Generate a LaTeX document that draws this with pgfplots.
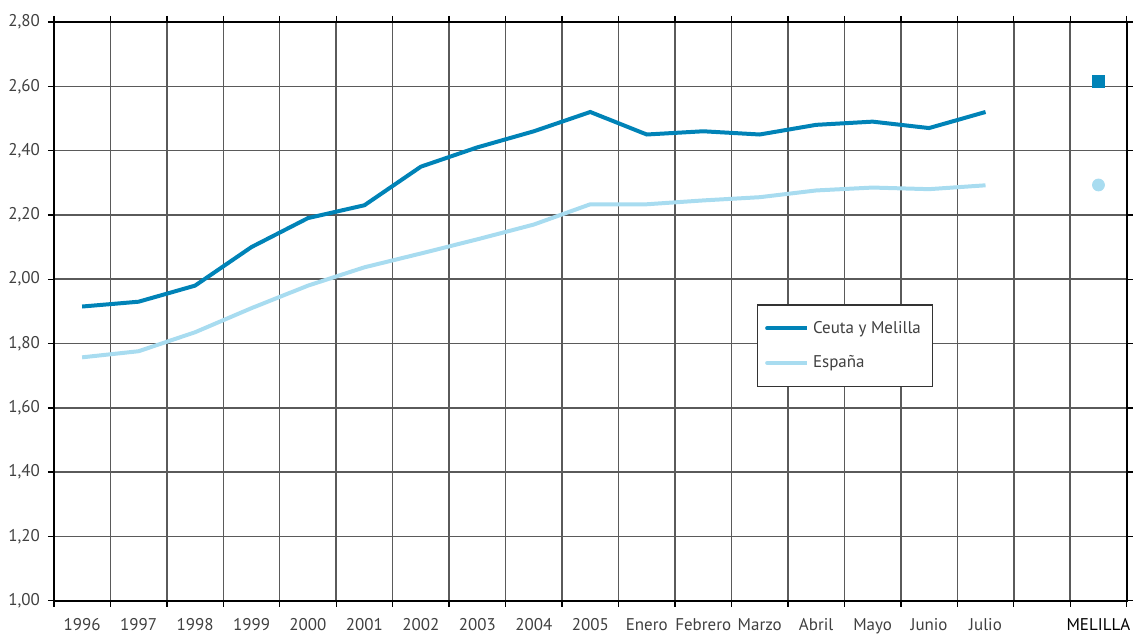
\documentclass[border=0pt]{standalone}
\usepackage{pgfplots}
\pgfplotsset{compat=1.18}
\usetikzlibrary{calc}
\usepackage{fontspec}
\setmainfont{PT Sans}
\definecolor{ceuta}{HTML}{0083B7}
\definecolor{espana}{HTML}{A8DCF0}
\definecolor{gridc}{HTML}{5A5A5A}
\definecolor{txt}{HTML}{404040}
\begin{document}
\fontsize{8.5}{10}\selectfont
\begin{tikzpicture}
\begin{axis}[
  scale only axis,
  width=537.5pt, height=290pt,
  xmin=-0.5, xmax=18.5,
  ymin=1, ymax=2.8,
  xtick={0,...,18},
  xticklabels={1996,1997,1998,1999,2000,2001,2002,2003,2004,2005,Enero,Febrero,Marzo,Abril,Mayo,Junio,Julio,{},{\color{black}MELILLA}},
  minor xtick={-0.5,0.5,1.5,2.5,3.5,4.5,5.5,6.5,7.5,8.5,9.5,10.5,11.5,12.5,13.5,14.5,15.5,16.5,17.5,18.5},
  xminorgrids=true,
  ymajorgrids=true,
  ytick={1,1.2,1.4,1.6,1.8,2.0,2.2,2.4,2.6,2.8},
  tick align=outside,
  xtick style={draw=none},
  minor x tick style={draw=black, line width=0.7pt},
  minor tick length=3pt,
  major tick length=3pt,
  ytick style={draw=black, line width=0.7pt},
  minor x grid style={gridc, line width=0.75pt},
  major y grid style={gridc, line width=0.75pt},
  axis line style={black, line width=0.9pt},
  tick label style={txt, font=\fontsize{8.5}{10}\selectfont},
  xticklabel style={yshift=-3pt},
  yticklabel style={xshift=-1pt},
  /pgf/number format/.cd, fixed, fixed zerofill, precision=2, use comma, assume math mode=true,
  /pgfplots/.cd,
  legend style={at={(0.655,0.512)}, anchor=north west, draw=black!80, line width=0.6pt,
    font=\fontsize{8.5}{10}\selectfont, text=txt, inner xsep=4pt, inner ysep=6pt,
    row sep=6pt, fill=white},
  legend cell align=left,
  legend image code/.code={\draw[#1, line width=2pt, line cap=round] (0pt,0pt) -- (15pt,0pt); \path (0pt,0pt) -- (20pt,0pt);},
]
\addplot[ceuta, line width=2pt] coordinates {
(0,1.915)(1,1.93)(2,1.98)(3,2.10)(4,2.19)(5,2.23)(6,2.35)(7,2.41)(8,2.46)(9,2.52)
(10,2.45)(11,2.46)(12,2.45)(13,2.48)(14,2.49)(15,2.47)(16,2.52)};
\addlegendentry{Ceuta y Melilla}
\addplot[espana, line width=2pt] coordinates {
(0,1.757)(1,1.776)(2,1.835)(3,1.91)(4,1.98)(5,2.037)(6,2.08)(7,2.124)(8,2.17)(9,2.233)
(10,2.233)(11,2.245)(12,2.255)(13,2.276)(14,2.285)(15,2.28)(16,2.292)};
\addlegendentry{España}
\addplot[only marks, mark=square*, mark size=3pt, ceuta, forget plot] coordinates {(18,2.615)};
\addplot[only marks, mark=*, mark size=3pt, espana, forget plot] coordinates {(18,2.293)};
\end{axis}
\useasboundingbox ($(current axis.south west)+(-27pt,-16.5pt)$) rectangle ($(current axis.north east)+(3.5pt,11pt)$);
\end{tikzpicture}
\end{document}
